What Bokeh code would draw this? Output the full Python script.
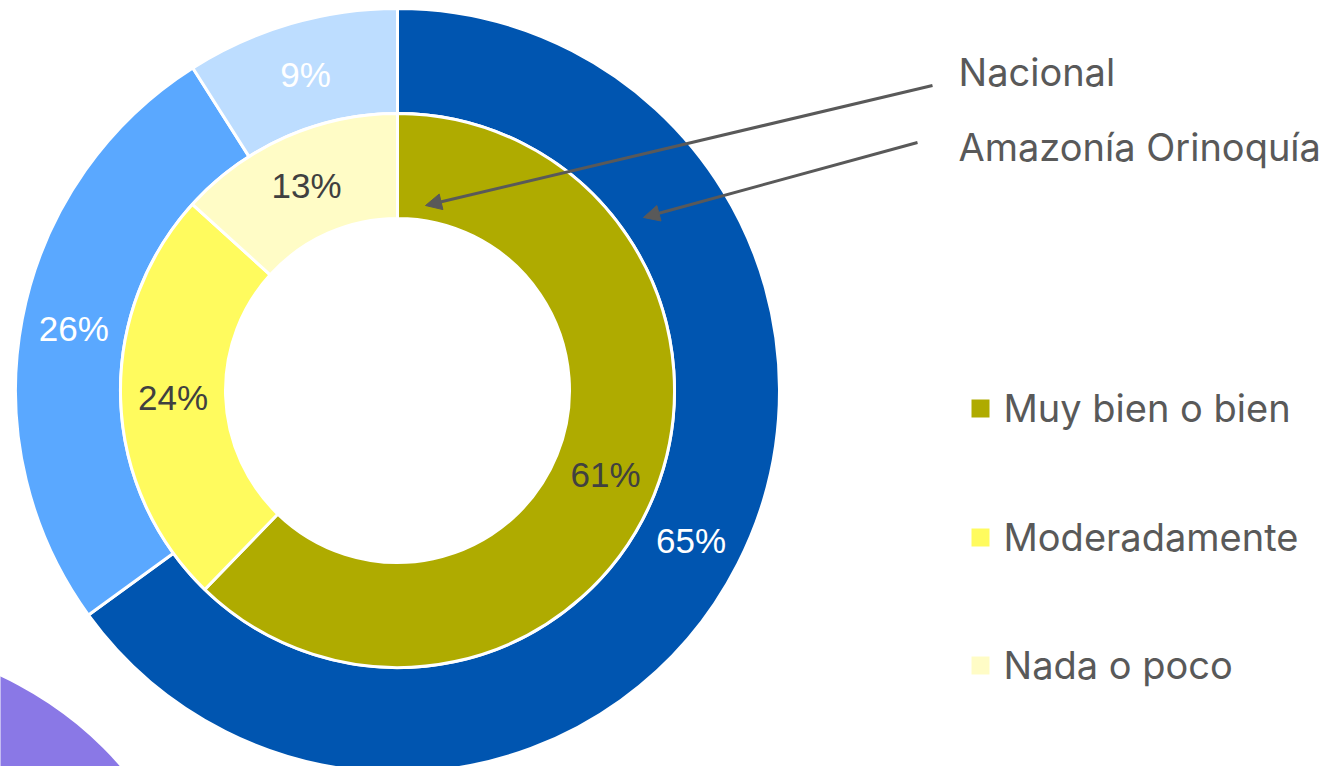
import numpy as np
from bokeh.plotting import figure
from bokeh.models import Range1d, Arrow, NormalHead
from bokeh.core.properties import value
from bokeh.embed import file_html
from bokeh.resources import INLINE

# ---- data ----
categories = ["Muy bien o bien", "Moderadamente", "Nada o poco"]
nacional = [61, 24, 13]          # inner ring
amazonia = [65, 26, 9]           # outer ring
series_names = ["Nacional", "Amazonía Orinoquía"]
inner_colors = ["#AFAB00", "#FFFB5E", "#FFFCC6"]
outer_colors = ["#0055B0", "#5AA8FF", "#BDDDFF"]

# ---- layout ----
W, H = 1341, 766
def px(x):
    return x
def py(y):
    return H - y

p = figure(width=W, height=H, x_range=Range1d(0, W), y_range=Range1d(0, H),
           output_backend="svg", toolbar_location=None, min_border=0,
           x_axis_type=None, y_axis_type=None)
p.grid.visible = False
p.outline_line_color = None
p.background_fill_color = "white"

# decorative circle bottom-left
p.circle(x=[px(-150)], y=[py(1000)], radius=357, fill_color="#8A78E6", line_color=None)

cx, cy = px(397), py(390)

def ring(vals, colors, r_in, r_out, label_color):
    v = np.array(vals, dtype=float)
    frac = v / v.sum()
    ends = np.cumsum(frac)
    starts = ends - frac
    sa = np.pi / 2 - 2 * np.pi * starts
    ea = np.pi / 2 - 2 * np.pi * ends
    p.annular_wedge(x=cx, y=cy, inner_radius=r_in, outer_radius=r_out,
                    start_angle=sa, end_angle=ea, direction="clock",
                    fill_color=colors, line_color="white", line_width=3)
    mid = np.pi / 2 - 2 * np.pi * (starts + ends) / 2
    r = (r_in + r_out) / 2
    p.text(x=cx + r * np.cos(mid), y=cy + r * np.sin(mid),
           text=[f"{int(x)}%" for x in vals], text_align="center",
           text_baseline="middle", text_font=value("Liberation Sans"),
           text_font_size="35px", text_color=label_color)

ring(amazonia, outer_colors, 277, 382, "white")
ring(nacional, inner_colors, 172, 277, "#404040")

grey = "#595959"
p.add_layout(Arrow(end=NormalHead(size=16, fill_color=grey, line_color=grey),
                   x_start=px(932), y_start=py(85), x_end=px(425), y_end=py(205),
                   line_color=grey, line_width=3))
p.add_layout(Arrow(end=NormalHead(size=16, fill_color=grey, line_color=grey),
                   x_start=px(917), y_start=py(142), x_end=px(643), y_end=py(217),
                   line_color=grey, line_width=3))

p.text(x=[px(958)] * 2, y=[py(71), py(146)], text=series_names,
       text_align="left", text_baseline="middle", text_font=value("Inter"),
       text_font_size="38px", text_color=grey)

ly = [py(407), py(536), py(664)]
p.rect(x=[px(980)] * 3, y=[py(408), py(537), py(665)], width=18, height=18,
       fill_color=inner_colors, line_color=None)
p.text(x=[px(1003)] * 3, y=ly, text=categories, text_align="left",
       text_baseline="middle", text_font=value("Inter"),
       text_font_size="38px", text_color=grey)

open("out.html", "w").write(file_html(p, INLINE))
